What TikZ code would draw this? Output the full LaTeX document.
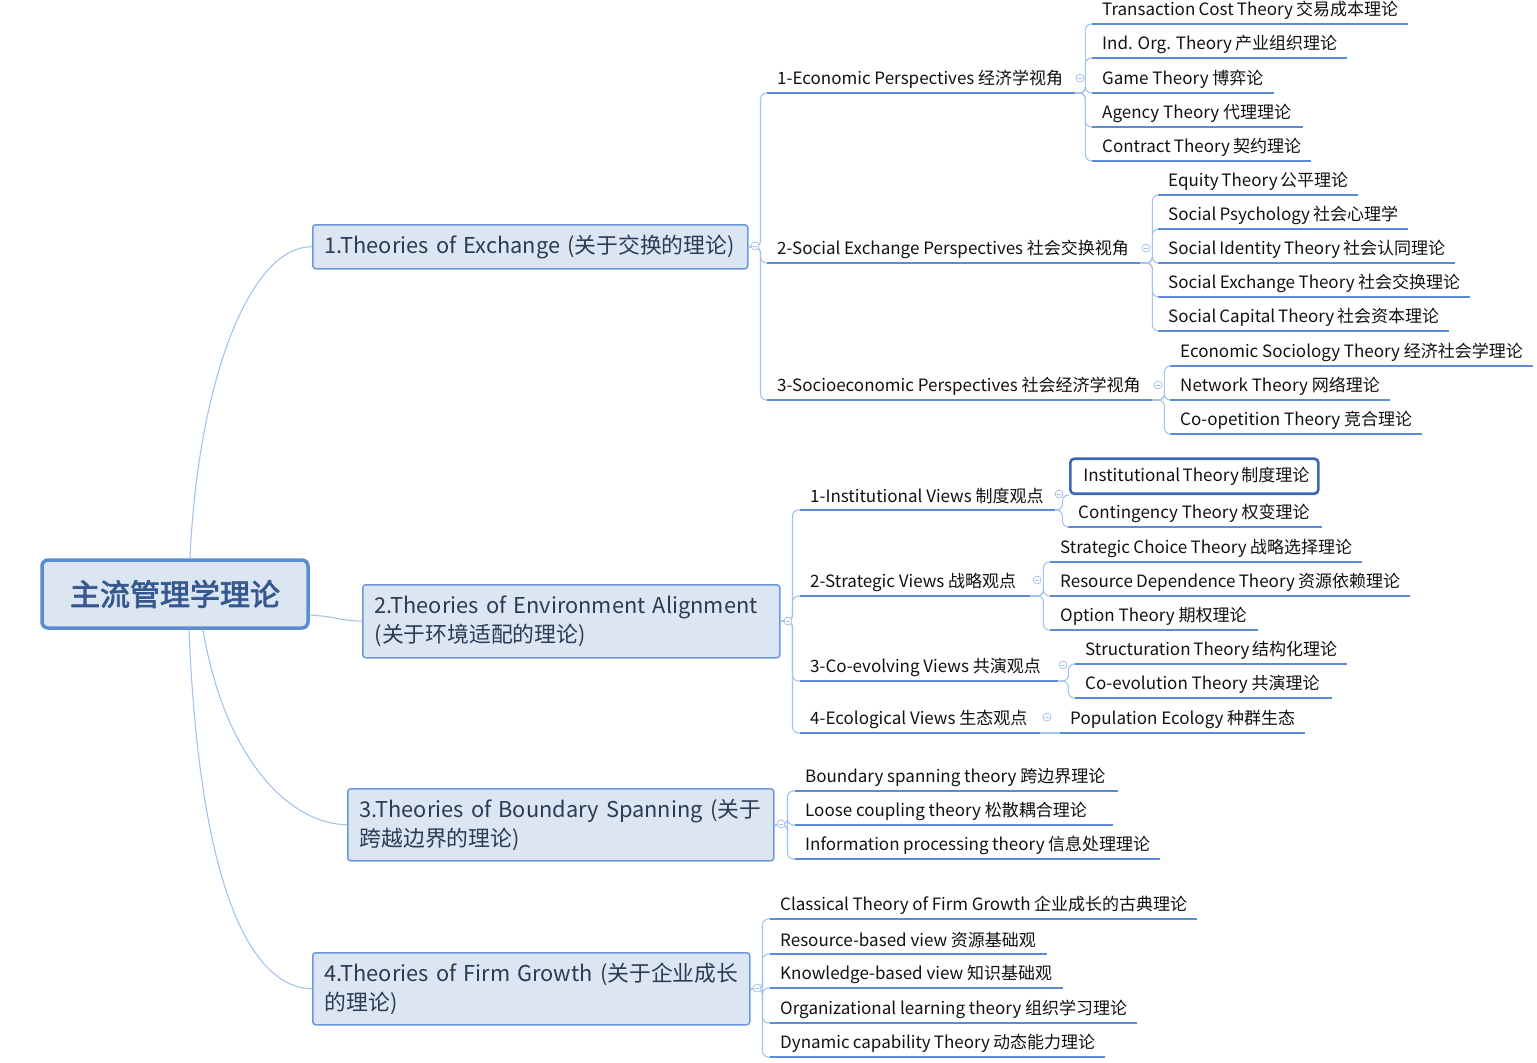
\documentclass[tikz,border=0pt]{standalone}
\usepackage{fontspec}
\setmainfont{Noto Sans CJK SC}[AutoFakeBold=2.5]
\definecolor{connc}{HTML}{A5C2EA}
\definecolor{ulc}{HTML}{5B8BD3}
\definecolor{mainfill}{HTML}{DCE6F2}
\definecolor{mainbd}{HTML}{6C98D8}
\definecolor{rootbd}{HTML}{5A8CD0}
\definecolor{roottext}{HTML}{35598F}
\definecolor{maintext}{HTML}{2B3A55}
\definecolor{selc}{HTML}{3D67B0}
\definecolor{leaftext}{HTML}{111111}
\newcommand\leaffont{\fontsize{17}{20}\selectfont}
\newcommand\mnfont{\fontsize{21.8}{29}\selectfont}
\newcommand\rtfont{\fontsize{30}{34}\selectfont}
\tikzset{
  conn/.style={draw=connc, line width=1.1pt, rounded corners=6pt},
  rootconn/.style={draw=connc, line width=1.1pt},
  uline/.style={draw=ulc, line width=2.4pt},
  leaf/.style={anchor=south west, inner xsep=10pt, inner ysep=0pt, minimum height=27pt,
    font=\leaffont, text=leaftext,
    execute at begin node={\hbox to #1pt\bgroup},
    execute at end node={\hfil\egroup},
    append after command={(\tikzlastnode.south west) edge[uline] (\tikzlastnode.south east)}},
  selbox/.style={anchor=south west, draw=selc, line width=2.6pt, rounded corners=4pt,
    inner xsep=13pt, inner ysep=0pt, minimum height=35pt, font=\leaffont, text=leaftext,
    execute at begin node={\hbox to #1pt\bgroup},
    execute at end node={\hfil\egroup}},
  mainbox/.style={anchor=north west, draw=mainbd, line width=1.5pt, fill=mainfill,
    rounded corners=3pt, inner xsep=12pt, inner ysep=0pt, align=left, font=\mnfont, text=maintext},
  rootbox/.style={draw=rootbd, line width=3.5pt, fill=mainfill, rounded corners=6pt,
    minimum width=266pt, minimum height=68pt, font=\rtfont\bfseries, text=roottext},
  tog/.style={circle, draw=connc, line width=0.8pt, fill=white, inner sep=0pt, minimum size=8pt,
    path picture={\draw[connc, line width=0.7pt] ([xshift=-2.2pt]path picture bounding box.center) -- ([xshift=2.2pt]path picture bounding box.center);}}
}
\begin{document}
\begin{tikzpicture}[x=1pt, y=-1pt]
\useasboundingbox (0,0) rectangle (1537,1063);

% root and main topics
\node[rootbox] (root) at (175,594) {主流管理学理论};
\node[mainbox, text width=411pt, minimum height=44pt] (m1) at (312,224) {\mbox{1.Theories of Exchange (关于交换的理论)}};
\node[mainbox, text width=393pt, minimum height=73pt] (m2) at (362,584) {\mbox{2.Theories of Environment Alignment}\\\mbox{(关于环境适配的理论)}};
\node[mainbox, text width=402pt, minimum height=72pt] (m3) at (347,788) {\mbox{3.Theories of Boundary Spanning (关于}\\\mbox{跨越边界的理论)}};
\node[mainbox, text width=413pt, minimum height=72pt] (m4) at (312,952) {\mbox{4.Theories of Firm Growth (关于企业成长}\\\mbox{的理论)}};

% branch 1
\node[leaf=288] (s11) at (767,93) {1-Economic Perspectives 经济学视角};
\node[leaf=353] (s12) at (767,263) {2-Social Exchange Perspectives 社会交换视角};
\node[leaf=365] (s13) at (767,400) {3-Socioeconomic Perspectives 社会经济学视角};

\node[leaf=296] (l111) at (1092,24) {Transaction Cost Theory 交易成本理论};
\node[leaf=235] (l112) at (1092,58) {Ind. Org. Theory 产业组织理论};
\node[leaf=162] (l113) at (1092,93) {Game Theory 博弈论};
\node[leaf=191] (l114) at (1092,127) {Agency Theory 代理理论};
\node[leaf=199] (l115) at (1092,161) {Contract Theory 契约理论};

\node[leaf=180] (l121) at (1158,195) {Equity Theory 公平理论};
\node[leaf=230] (l122) at (1158,229) {Social Psychology 社会心理学};
\node[leaf=277] (l123) at (1158,263) {Social Identity Theory 社会认同理论};
\node[leaf=292] (l124) at (1158,297) {Social Exchange Theory 社会交换理论};
\node[leaf=271] (l125) at (1158,331) {Social Capital Theory 社会资本理论};

\node[leaf=343] (l131) at (1170,366) {Economic Sociology Theory 经济社会学理论};
\node[leaf=200] (l132) at (1170,400) {Network Theory 网络理论};
\node[leaf=232] (l133) at (1170,434) {Co-opetition Theory 竞合理论};

% branch 2
\node[leaf=235] (s21) at (800,510) {1-Institutional Views 制度观点};
\node[leaf=210] (s22) at (800,596) {2-Strategic Views 战略观点};
\node[leaf=238] (s23) at (800,681) {3-Co-evolving Views 共演观点};
\node[leaf=220] (s24) at (800,733) {4-Ecological Views 生态观点};

\node[selbox=222] (l211) at (1069,495) {Institutional Theory 制度理论};
\node[leaf=234] (l212) at (1068,527) {Contingency Theory 权变理论};

\node[leaf=292] (l221) at (1050,562) {Strategic Choice Theory 战略选择理论};
\node[leaf=340] (l222) at (1050,596) {Resource Dependence Theory 资源依赖理论};
\node[leaf=188] (l223) at (1050,630) {Option Theory 期权理论};

\node[leaf=252] (l231) at (1075,664) {Structuration Theory 结构化理论};
\node[leaf=237] (l232) at (1075,698) {Co-evolution Theory 共演理论};

\node[leaf=225] (l241) at (1060,733) {Population Ecology 种群生态};

% branch 3
\node[leaf=303] (l31) at (795,791) {Boundary spanning theory 跨边界理论};
\node[leaf=298] (l32) at (795,825) {Loose coupling theory 松散耦合理论};
\node[leaf=345] (l33) at (795,859) {Information processing theory 信息处理理论};

% branch 4
\node[leaf=407] (l41) at (770,919) {Classical Theory of Firm Growth 企业成长的古典理论};
\node[leaf=257] (l42) at (770,954) {Resource-based view 资源基础观};
\node[leaf=273] (l43) at (770,988) {Knowledge-based view 知识基础观};
\node[leaf=347] (l44) at (770,1023) {Organizational learning theory 组织学习理论};
\node[leaf=315] (l45) at (770,1057) {Dynamic capability Theory 动态能力理论};

% root connectors
\draw[rootconn] ([xshift=15pt]root.north) .. controls (198,380) and (250,246) .. (m1.west);
\draw[rootconn] ([yshift=-21pt]root.east) .. controls (340,617) and (335,620) .. (m2.west);
\draw[rootconn] ([xshift=28pt]root.south) .. controls (225,760) and (290,824) .. (m3.west);
\draw[rootconn] ([xshift=14pt]root.south) .. controls (200,900) and (255,988) .. (m4.west);

% main -> sub connectors
\foreach \c in {s11,s12,s13} \draw[conn] (m1.east) -- ++(12,0) |- (\c.south west);
\foreach \c in {s21,s22,s23,s24} \draw[conn] (m2.east) -- ++(12,0) |- (\c.south west);
\foreach \c in {l31,l32,l33} \draw[conn] (m3.east) -- ++(13,0) |- (\c.south west);
\foreach \c in {l41,l42,l43,l44,l45} \draw[conn] (m4.east) -- ++(12,0) |- (\c.south west);

% sub -> leaf connectors
\foreach \c in {l111,l112,l113,l114,l115} \draw[conn] (s11.south east) -- ++(10,0) |- (\c.south west);
\foreach \c in {l121,l122,l123,l124,l125} \draw[conn] (s12.south east) -- ++(12,0) |- (\c.south west);
\foreach \c in {l131,l132,l133} \draw[conn] (s13.south east) -- ++(12,0) |- (\c.south west);
\foreach \c in {l211,l212} \draw[conn] (s21.south east) -- ++(7,0) |- (\c.south west);
\foreach \c in {l221,l222,l223} \draw[conn] (s22.south east) -- ++(13,0) |- (\c.south west);
\foreach \c in {l231,l232} \draw[conn] (s23.south east) -- ++(10,0) |- (\c.south west);
\draw[conn] (s24.south east) -- (l241.south west);

% collapse toggles
\node[tog] (t1) at (755,246) {};
\node[tog] (t2) at (788,621) {};
\node[tog] (t3) at (781,824) {};
\node[tog] (t4) at (757,988) {};
\node[tog] (t11) at (1080,78) {};
\node[tog] (t12) at (1146,248) {};
\node[tog] (t13) at (1158,385) {};
\node[tog] (t21) at (1059,494) {};
\node[tog] (t22) at (1037,580) {};
\node[tog] (t23) at (1063,665) {};
\node[tog] (t24) at (1047,717) {};
\end{tikzpicture}
\end{document}
